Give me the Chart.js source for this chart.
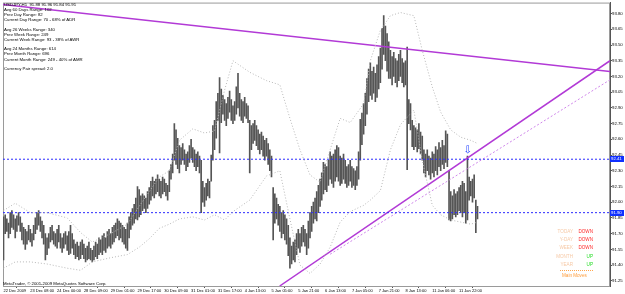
<!DOCTYPE html>
<html><head><meta charset="utf-8">
<script src="https://cdn.jsdelivr.net/npm/chart.js@4/dist/chart.umd.min.js"></script>
<style>
html,body{margin:0;padding:0;background:#fff;}
#wrap{position:relative;width:625px;height:294px;overflow:hidden;font-family:"Liberation Sans",Arial,sans-serif;}
#c{position:absolute;left:0;top:0;}
.t{position:absolute;white-space:pre;font-size:4.3px;line-height:5px;color:#000;}
.hl{position:absolute;left:610px;width:14px;height:6px;background:#1030ff;color:#fff;font-size:4.3px;line-height:6px;padding-left:1px;box-sizing:border-box;}
</style></head><body>
<div id="wrap"><canvas id="c" width="625" height="294"></canvas></div>
<script>
// ---- data (USDJPY H1) ----
const barLow = [91.45,91.70,91.72,91.66,91.70,91.76,91.74,91.66,91.72,91.78,91.72,91.64,91.60,91.55,91.60,91.64,91.62,91.58,91.64,91.70,
91.74,91.78,91.72,91.66,91.60,91.45,91.50,91.56,91.62,91.64,91.60,91.58,91.56,91.62,91.56,91.52,91.56,91.60,91.54,91.50,
91.51,91.56,91.50,91.46,91.48,91.45,91.46,91.50,91.46,91.43,91.45,91.46,91.45,91.43,91.45,91.48,91.46,91.50,91.52,91.50,
91.54,91.52,91.56,91.58,91.56,91.60,91.62,91.66,91.68,91.64,91.66,91.62,91.60,91.56,91.54,91.66,91.74,91.78,91.80,91.84,
91.83,91.86,91.88,91.92,91.94,91.90,91.94,91.98,92.02,92.06,92.04,92.08,92.10,92.06,92.04,92.08,92.10,92.06,92.02,92.10,
92.22,92.28,92.40,92.36,92.32,92.28,92.36,92.40,92.36,92.30,92.34,92.38,92.42,92.38,92.34,92.30,92.34,92.28,91.90,92.00,
91.96,92.02,92.06,92.04,92.20,92.40,92.50,92.61,92.78,92.47,92.76,92.84,92.78,92.73,92.80,92.86,92.78,92.75,92.78,92.84,
92.90,92.82,92.78,92.76,92.82,92.80,92.76,92.28,92.50,92.56,92.59,92.54,92.50,92.46,92.50,92.44,92.40,92.44,92.36,92.30,
92.24,91.64,91.80,91.84,91.78,91.72,91.66,91.70,91.64,91.60,91.49,91.37,91.41,91.45,91.43,91.50,91.56,91.52,91.58,91.62,
91.58,91.50,91.56,91.66,91.72,91.80,91.84,91.82,91.90,91.96,92.02,92.08,92.12,92.10,92.16,92.22,92.18,92.14,92.20,92.24,
92.20,92.16,92.18,92.22,92.18,92.14,92.16,92.20,92.14,92.16,92.12,92.16,92.22,92.40,92.55,92.65,92.73,92.84,92.96,93.02,
92.98,93.04,92.96,93.00,93.08,93.14,93.27,93.41,93.35,93.25,93.18,93.18,93.12,93.20,93.14,93.10,93.16,93.20,93.14,93.10,
93.12,92.31,92.75,92.69,92.53,92.50,92.53,92.48,92.51,92.46,92.40,92.28,92.24,92.30,92.26,92.22,92.28,92.24,92.30,92.26,
92.34,92.30,92.36,92.32,92.38,92.34,91.83,91.82,91.84,91.88,91.86,91.88,91.92,91.90,91.86,91.90,91.80,91.83,92.02,92.06,
92.00,92.04,91.71,91.84];
const barHigh = [91.86,91.88,91.84,91.80,91.90,91.92,91.88,91.84,91.87,91.90,91.86,91.80,91.76,91.74,91.72,91.78,91.74,91.70,91.78,91.85,
91.90,91.92,91.86,91.82,91.78,91.70,91.66,91.70,91.76,91.78,91.72,91.70,91.74,91.78,91.70,91.66,91.70,91.72,91.68,91.72,
91.78,91.70,91.64,91.60,91.62,91.58,91.62,91.64,91.60,91.56,91.58,91.62,91.56,91.54,91.58,91.62,91.60,91.66,91.64,91.68,
91.70,91.66,91.72,91.74,91.70,91.76,91.78,91.80,91.84,91.82,91.80,91.78,91.76,91.74,91.80,91.86,91.90,91.94,91.98,92.04,
92.15,92.12,92.06,92.08,92.06,92.04,92.10,92.14,92.20,92.24,92.20,92.22,92.26,92.22,92.20,92.24,92.22,92.18,92.16,92.30,
92.36,92.46,92.75,92.69,92.61,92.54,92.52,92.56,92.50,92.46,92.48,92.54,92.60,92.52,92.50,92.46,92.48,92.44,92.40,92.20,
92.14,92.18,92.22,92.20,92.45,92.73,92.78,92.96,93.04,93.19,93.08,93.02,92.98,92.94,93.00,93.06,92.98,92.92,92.96,93.10,
93.23,93.04,92.98,92.96,93.00,92.94,92.92,92.78,92.73,92.75,92.78,92.73,92.69,92.65,92.67,92.63,92.59,92.61,92.56,92.50,
92.44,92.14,92.08,92.04,91.98,91.96,91.90,91.92,91.88,91.84,91.78,91.66,91.58,91.62,91.64,91.70,91.74,91.70,91.76,91.78,
91.74,91.70,91.82,91.90,91.96,92.00,92.04,92.10,92.16,92.22,92.28,92.38,92.36,92.34,92.40,92.48,92.44,92.46,92.50,92.54,
92.52,92.44,92.42,92.46,92.40,92.34,92.36,92.40,92.34,92.32,92.30,92.34,92.48,92.79,92.85,92.94,93.04,93.18,93.27,93.33,
93.25,93.29,93.23,93.31,93.39,93.47,93.66,93.78,93.68,93.61,93.53,93.45,93.39,93.43,93.37,93.35,93.41,93.45,93.37,93.33,
93.35,93.48,92.98,92.94,92.78,92.73,92.71,92.69,92.75,92.67,92.63,92.50,92.46,92.50,92.44,92.42,92.48,92.46,92.53,92.50,
92.57,92.52,92.59,92.54,92.68,92.65,92.30,92.10,92.06,92.12,92.08,92.10,92.14,92.16,92.20,92.18,92.10,92.44,92.24,92.20,
92.22,92.26,92.02,91.96];
// Bollinger bands, sampled at bar indices
const bandIdx   = [0,7,16,26,38,46,53,64,74,81,87,93,99,105,113,120,126,132,137,147,157,165,171,177,183,189,195,201,207,215,219,225,231,237,245,250,256,261,267,273,279,283];
const bandUpper = [91.92,91.99,91.90,91.90,91.85,91.71,91.62,91.70,91.79,91.96,92.10,92.24,92.30,92.59,92.70,92.66,92.68,93.07,93.35,93.24,93.16,93.12,92.80,92.50,92.26,92.19,92.50,92.80,92.76,92.94,93.35,93.64,93.78,93.81,93.78,93.45,93.10,92.86,92.69,92.62,92.59,92.56];
const bandLower = [91.37,91.43,91.43,91.41,91.37,91.35,91.43,91.47,91.50,91.57,91.65,91.75,91.79,91.84,91.86,91.83,91.88,91.83,91.91,92.02,92.25,92.30,91.84,91.40,91.32,91.41,91.57,91.81,91.91,91.97,92.02,92.11,92.50,92.74,92.88,92.40,91.97,91.88,91.83,91.81,91.79,91.81];
const hLines = [92.41, 91.90];
const trendDown = [[-0.3,93.886],[362.1,93.248]];
const trendUp   = [[164.9,91.20],[362.1,93.350]];
const trendDot  = [[195.0,91.503],[362.1,93.168]];
const arrowAt = [277, 92.50];
const yTicks = [91.25,91.40,91.55,91.70,91.85,92.00,92.15,92.30,92.45,92.60,92.75,92.90,93.05,93.20,93.35,93.50,93.65,93.80];
const xTickIdx = [0,16,32,48,64,80,96,112,128,144,160,176,192,208,224,240,256,272];
const xTickLabels = ["22 Dec 2009","23 Dec 08:00","24 Dec 00:00","28 Dec 09:00","29 Dec 01:00","29 Dec 17:00","30 Dec 09:00","31 Dec 01:00","31 Dec 17:00","4 Jan 13:00","5 Jan 05:00","5 Jan 21:00","6 Jan 13:00","7 Jan 05:00","7 Jan 21:00","8 Jan 13:00","11 Jan 06:00","11 Jan 22:00"];

const FONT = '"Liberation Sans", Arial, sans-serif';
const line = (pts, color, dash, w) => ({type:'line', data: pts.map(p=>({x:p[0],y:p[1]})), borderColor: color, borderWidth: w||1, borderDash: dash||[], pointRadius:0, tension:0, fill:false, clip:0, order:1});

const frame = {id:'frame', beforeDatasetsDraw(ch){const a=ch.chartArea,c=ch.ctx;c.save();c.strokeStyle='#9a9a9a';c.lineWidth=1;c.strokeRect(a.left+0.5,a.top+0.5,a.right-a.left-1,a.bottom-a.top);c.restore();}};

const chart = new Chart(document.getElementById('c'), {
  type:'bar',
  data:{datasets:[
    line(bandIdx.map((x,i)=>[x,bandUpper[i]]), '#b8b8b8', [1,2], 1),
    line(bandIdx.map((x,i)=>[x,bandLower[i]]), '#b8b8b8', [1,2], 1),
    line([[-0.3,hLines[0]],[362.1,hLines[0]]], '#2a2aff', [2,2], 1),
    line([[-0.3,hLines[1]],[362.1,hLines[1]]], '#2a2aff', [2,2], 1),
    {type:'bar', data: barLow.map((l,i)=>({x:i, y:[l, barHigh[i]]})), backgroundColor:'#555555', barThickness:1, borderWidth:0, order:2},
    line(trendDown, '#b23ad6', [], 1.5),
    line(trendUp, '#b23ad6', [], 1.5),
    line(trendDot, '#cf86ea', [2,2], 1),
  ]},
  options:{
    responsive:false, animation:false, devicePixelRatio:1,
    layout:{padding:{left:3,top:2,right:0,bottom:0}},
    plugins:{legend:{display:false}, tooltip:{enabled:false}},
    scales:{
      x:{type:'linear', min:-0.3, max:362.1, offset:false,
        afterBuildTicks(s){s.ticks = xTickIdx.map(v=>({value:v}));},
        afterFit(s){s.height = 8;},
        grid:{drawOnChartArea:false, tickLength:2, color:'#555'},
        border:{color:'#555'},
        ticks:{autoSkip:false, maxRotation:0, align:'start', padding:0, color:'#000', font:{family:FONT, size:4}, callback(v){const k=xTickIdx.indexOf(v);return k>=0?xTickLabels[k]:'';}}},
      y:{position:'right', min:91.20, max:93.905,
        afterBuildTicks(s){s.ticks = yTicks.map(v=>({value:v}));},
        afterFit(s){s.width = 15;},
        grid:{drawOnChartArea:false, tickLength:2, color:'#555'},
        border:{color:'#555'},
        ticks:{padding:0, color:'#000', font:{family:FONT, size:4.3}, callback(v){return v.toFixed(2);}}}
    }
  },
  plugins:[frame]
});

// ---- text overlays ----
const wrap = document.getElementById('wrap');
function addText(txt, x, y, color, extra){const d=document.createElement('div');d.className='t';d.textContent=txt;d.style.left=x+'px';d.style.top=(y-2.5)+'px';if(color)d.style.color=color;if(extra)Object.assign(d.style,extra);wrap.appendChild(d);return d;}
const info = [
 ["USDJPY,H1  91.88 91.96 91.84 91.91",4],
 ["Avg 60 Days Range: 102",9],["Prev Day Range: 82",14],["Current Day Range: 70 - 68% of ADR",19],
 ["Avg 26 Weeks Range: 340",29],["Prev Week Range: 249",34],["Current Week Range: 93 - 38% of AWR",39],
 ["Avg 24 Months Range: 614",48],["Prev Month Range: 696",53],["Current Month Range: 249 - 40% of AMR",59],
 ["Currency Pair spread: 2.0",68]];
info.forEach(r=>addText(r[0],4,r[1],'#000'));
addText("MetaTrader, © 2001-2009 MetaQuotes Software Corp.",3,283,'#000');
const moves = [["TODAY","DOWN",231],["Y-DAY","DOWN",239],["WEEK","DOWN",247],["MONTH","UP",256],["YEAR","UP",264]];
moves.forEach(m=>{
  addText(m[0],0,m[2],'#f6c9a6',{left:'auto',right:(625-573)+'px',fontSize:'4.6px'});
  addText(m[1],0,m[2],m[1]==='UP'?'#22dd22':'#ff2a2a',{left:'auto',right:(625-593)+'px',fontSize:'4.6px'});
});
const dl=document.createElement('div');dl.style.cssText='position:absolute;left:560px;top:270px;width:33px;border-top:1px dotted #ffa64d;';wrap.appendChild(dl);
addText("Main Moves",562,275,'#ff9d3c',{fontSize:'4.6px'});
// value-positioned labels
const ys = chart.scales.y, xs = chart.scales.x;
hLines.forEach(v=>{const d=document.createElement('div');d.className='hl';d.textContent=v.toFixed(2);d.style.top=(ys.getPixelForValue(v)-3)+'px';wrap.appendChild(d);});
const ar=document.createElement('div');ar.textContent='⇩';ar.style.cssText='position:absolute;font-family:"DejaVu Sans";font-size:10px;line-height:10px;color:#1c3cff;';
wrap.appendChild(ar);ar.style.left=(xs.getPixelForValue(arrowAt[0])-ar.offsetWidth/2)+'px';ar.style.top=(ys.getPixelForValue(arrowAt[1])-5)+'px';
</script>
</body></html>
